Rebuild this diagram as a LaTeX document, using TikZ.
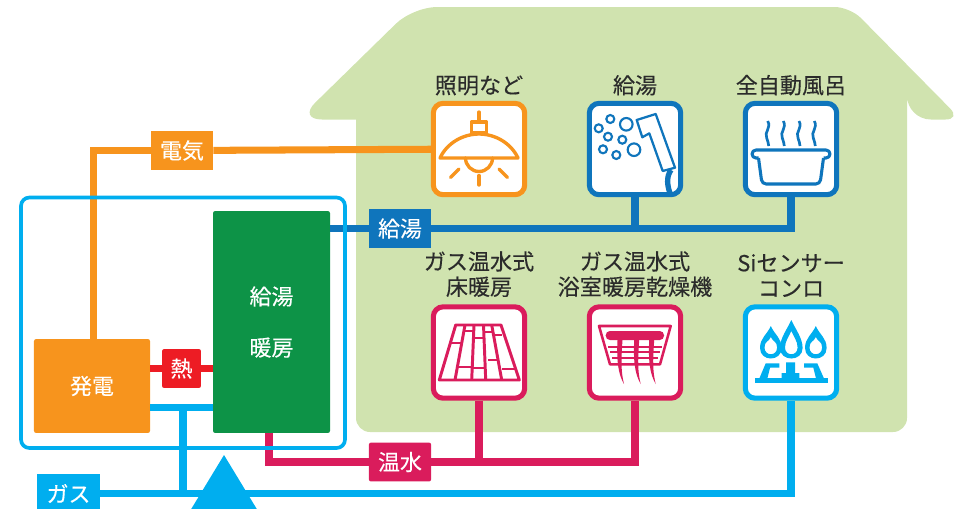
\documentclass[tikz,border=0pt]{standalone}
\usepackage{fontspec}
\usepackage{xcolor}
\usepackage{tikz}
\usetikzlibrary{positioning}
\setmainfont{Noto Sans CJK JP}[FakeBold=0.25]
\definecolor{housegreen}{HTML}{D0E3AF}
\definecolor{elecorange}{HTML}{F7941D}
\definecolor{hotblue}{HTML}{0F75BC}
\definecolor{gascyan}{HTML}{00AEEF}
\definecolor{warmpink}{HTML}{DA1C5C}
\definecolor{unitgreen}{HTML}{0D9347}
\definecolor{heatred}{HTML}{ED1C24}
\definecolor{labelgray}{HTML}{2B2B2B}
\tikzset{
  itembox/.style={draw=#1, fill=white, line width=3.6pt, rounded corners=7pt, minimum size=65pt, inner sep=0pt},
  itemlabel/.style={text=labelgray, font=\fontsize{15.7}{18}\selectfont, align=center, inner sep=0pt},
  tagbox/.style={fill=#1, text=white, font=\fontsize{15.6}{17.8}\selectfont, minimum width=44.2pt, minimum height=27.7pt, inner sep=0pt},
  unitbox/.style={fill=#1, text=white, rounded corners=1.5pt, inner sep=0pt},
  pipe/.style={draw=#1, line width=5pt},
  icon/.style={draw=#1, line width=2.4pt, line cap=round, line join=round},
}
\begin{document}
\begin{tikzpicture}[x=0.025cm,y=-0.025cm]
\useasboundingbox (0,0) rectangle (958,508);
\clip (0,0) rectangle (958,508);
% house
\fill[housegreen, rounded corners=11pt] (630,7) -- (850,7) -- (961,119.5) [rounded corners=17pt] -- (907,119.5) [sharp corners] -- (907,119.5)
  [rounded corners=10pt] -- (907,432) -- (356,432) -- (356,119.5) [sharp corners] -- (356,119.5)
  [rounded corners=17pt] -- (298,119.5) -- (413,7) [rounded corners=11pt] -- cycle;
% appliances
\node[itembox=elecorange] (lamp) at (479,149) {};
\node[itembox=hotblue] (shower) at (635,149) {};
\node[itembox=hotblue] (bath) at (791,149) {};
\node[itembox=warmpink] (floorheat) at (479,352.5) {};
\node[itembox=warmpink] (dryer) at (635,352.5) {};
\node[itembox=gascyan] (stove) at (791,352.5) {};
\node[itemlabel, above=3.6pt of lamp] (lamplabel) {照明など};
\node[itemlabel, above=3.6pt of shower] (showerlabel) {給湯};
\node[itemlabel, above=3.6pt of bath] (bathlabel) {全自動風呂};
\node[itemlabel, above=5pt of floorheat] (floorlabel) {ガス温水式\\床暖房};
\node[itemlabel, above=5pt of dryer] (dryerlabel) {ガス温水式\\浴室暖房乾燥機};
\node[itemlabel, above=5pt of stove] (stovelabel) {Siセンサー\\コンロ};
% units
\node[unitbox=elecorange, minimum width=82.5pt, minimum height=66.8pt, font=\fontsize{15.6}{17.8}\selectfont] (hatsuden) at (92,386) {発電};
\node[unitbox=unitgreen, minimum width=83.2pt, minimum height=157.8pt, align=center, font=\fontsize{15.6}{36.3}\selectfont] (kyuto) at (271.5,322) {給湯\\暖房};
% tags
\node[tagbox=elecorange] (denki) at (182,150.5) {電気};
\node[tagbox=hotblue] (kyutag) at (400,228.5) {給湯};
\node[tagbox=warmpink, rounded corners=1.5pt] (onsui) at (400,462) {温水};
\node[tagbox=heatred, minimum width=27.7pt, rounded corners=1.5pt] (netsu) at (181.5,368.5) {熱};
\node[tagbox=gascyan] (gas) at (68.5,493.5) {ガス};
\coordinate (pinkstart) at (269,433);
\coordinate (gasbranch) at (183,407.5);
% connectors
\draw[pipe=elecorange] ([xshift=1.1pt]hatsuden.north) |- (denki);
\draw[pipe=elecorange] (denki) -- (lamp);
\draw[pipe=hotblue] (kyuto.east |- kyutag) -- (kyutag);
\draw[pipe=hotblue] (kyutag) -| (bath);
\draw[pipe=hotblue] (shower) -- (shower |- kyutag);
\draw[pipe=warmpink] (pinkstart) |- (onsui);
\draw[pipe=warmpink] (onsui) -| (dryer);
\draw[pipe=warmpink] (floorheat) -- (floorheat |- onsui);
\draw[pipe=heatred] (hatsuden.east |- netsu) -- (netsu);
\draw[pipe=heatred] (netsu) -- (kyuto.west |- netsu);
\draw[pipe=gascyan] (hatsuden.east |- gasbranch) -- (kyuto.west |- gasbranch);
\draw[pipe=gascyan] (gasbranch) -- (gasbranch |- gas);
\draw[pipe=gascyan] (gas) -| (stove);
% enclosure and triangle
\draw[gascyan, line width=2.6pt, rounded corners=6pt] (21,197.5) rectangle (345,448);
\fill[gascyan] (224,455) -- (258,511) -- (190,511) -- cycle;
% lamp icon
\draw[icon=elecorange] (479,112) -- (479,122);
\draw[icon=elecorange] (471.5,122) rectangle (486.5,133);
\draw[icon=elecorange] (440,158) .. controls (447,143) and (463,134) .. (479,134) .. controls (495,134) and (511,143) .. (518,158) -- cycle;
\draw[icon=elecorange] (465.5,158) arc[start angle=180, end angle=0, radius=13.5];
\draw[icon=elecorange] (479,175.5) -- (479,185);
\draw[icon=elecorange] (459,169) -- (450.5,177.5);
\draw[icon=elecorange] (499,169) -- (507.5,177.5);
% shower icon
\foreach \cx/\cy/\cr in {610.3/119/4, 598.7/128.3/4, 626.3/124.3/6.3, 608/136.7/4, 622.3/139.7/4, 603/149.3/4, 616.3/155/4, 634/149.7/6.3}
  \draw[hotblue, line width=1.5pt] (\cx,\cy) circle[radius=\cr];
\draw[hotblue, line width=3.8pt] (671,170) .. controls (666,177) and (667,186) .. (671,196);
\draw[hotblue, fill=white, line width=1.6pt, line join=round] (636.7,120) -- (655.7,114) -- (675,167.7) -- (662.7,171) -- (649.3,133.3) -- (642.3,137.3) -- cycle;
% bath icon
\foreach \sx in {767.7,783.3,799,814.3}
  \draw[hotblue, line width=1.9pt] (\sx,121) .. controls (\sx+4,128) and (\sx-4,132) .. (\sx-1,138) .. controls (\sx,141) and (\sx+1,144) .. (\sx+1,146);
\draw[hotblue, line width=2.2pt, line join=round] (758.5,158) -- (756,158) arc[start angle=90, end angle=270, radius=4] -- (826,150) arc[start angle=270, end angle=450, radius=4] -- (823.5,158);
\draw[hotblue, line width=2.2pt, rounded corners=3pt] (758.5,158) -- (762,184) -- (820,184) -- (823.5,158);
% floor icon
\draw[warmpink, line width=2.1pt, line join=round] (455.7,325) -- (501,325) -- (519.3,380) -- (439.3,380) -- cycle;
\foreach \xa/\xb in {465/455, 474/471.7, 483.5/485.7, 491.7/501.7}
  \draw[warmpink, line width=2.1pt] (\xa,325) -- (\xb,380);
\foreach \xa/\xb/\ya in {451/461/343, 456/471/367, 464/474/331, 475/484/338, 472/486/368, 484/492/332, 488/499/360, 493/502/335, 502/516/369}
  \draw[warmpink, line width=2.1pt] (\xa,\ya) -- (\xb,\ya);
% dryer icon
\draw[warmpink, line width=1.8pt, line join=round] (599,326) -- (670.7,326) -- (660,364.3) -- (610,364.3) -- cycle;
\fill[warmpink, rounded corners=3pt] (605.7,331) rectangle (664,340);
\foreach \sy/\sa/\sb in {346.7/608/662, 352.3/610/660, 358.3/612/658}
  \draw[warmpink, line width=1.6pt] (\sa,\sy) -- (\sb,\sy);
\foreach \sx in {620,636.7,651.7}
  \fill[warmpink] (\sx-2.5,340) -- (\sx+2.5,340) .. controls (\sx+1,362) and (\sx+1,372) .. (\sx+4,384) .. controls (\sx-2,374) and (\sx-3.5,360) .. (\sx-2.5,340) -- cycle;
% stove icon
\foreach \fx/\ft/\fw in {770.8/326/10.8, 791.3/320/11.3, 815.8/326/10.8}
  \fill[gascyan, even odd rule] (\fx,\ft) .. controls (\fx+4,\ft+9) and (\fx+\fw,338) .. (\fx+\fw,348) .. controls (\fx+\fw,362) and (\fx-\fw,362) .. (\fx-\fw,348) .. controls (\fx-\fw,338) and (\fx-4,\ft+9) .. (\fx,\ft) -- cycle
    (\fx,\ft+11) .. controls (\fx+2,\ft+16) and (\fx+6.3,341) .. (\fx+6.3,347.5) .. controls (\fx+6.3,356.5) and (\fx-6.3,356.5) .. (\fx-6.3,347.5) .. controls (\fx-6.3,341) and (\fx-2,\ft+16) .. (\fx,\ft+11) -- cycle;
\fill[gascyan] (755,378.3) rectangle (828.3,382.7);
\fill[gascyan] (786,362.3) -- (795,362.3) -- (795,373) -- (799.3,373) -- (799.3,378.5) -- (781.7,378.5) -- (781.7,373) -- (786,373) -- cycle;
\fill[gascyan] (765.7,363.3) -- (779.3,363.3) -- (779.3,367.7) -- (770,367.7) -- (767.3,378.5) -- (759.3,378.5) -- cycle;
\fill[gascyan] (804,363.3) -- (817.3,363.3) -- (824,378.5) -- (816,378.5) -- (813.3,367.7) -- (804,367.7) -- cycle;
\end{tikzpicture}
\end{document}
